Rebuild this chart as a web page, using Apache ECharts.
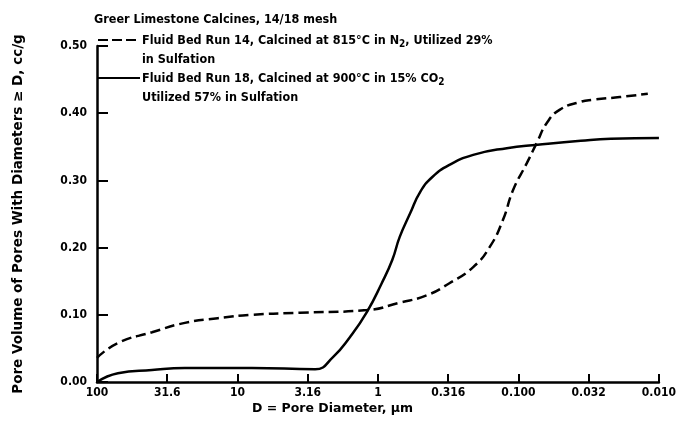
<!DOCTYPE html>
<html lang="en">
<head>
    <meta charset="UTF-8">
    <title>Pore volume chart</title>
    <style>
        body,html{
            width: 679px;
            height: 429px;
            margin: 0;
            background: #fff;
        }
        #chart{
            width: 679px;
            height: 429px;
        }
    </style>
</head>
<body>

    <div id="chart"></div>

<script src="https://cdn.jsdelivr.net/npm/echarts@6/dist/echarts.min.js"></script>
<script type="text/javascript">

    // x tick labels, left to right (axis runs from 100 down to 0.010)
    let xTickLabels = ["100", "31.6", "10", "3.16", "1", "0.316", "0.100", "0.032", "0.010"];

    // Run 14 (dashed): pore diameter um / pore volume cc/g
    let run14D = [100, 71, 40.6, 23.7, 13.8, 7.9, 3.6, 1.2, 0.70, 0.45, 0.31, 0.21, 0.16, 0.129,
                  0.109, 0.087, 0.074, 0.063, 0.051, 0.036, 0.0295, 0.019, 0.012];
    let run14V = [0.036, 0.058, 0.074, 0.088, 0.095, 0.100, 0.103, 0.107, 0.118, 0.129, 0.147, 0.171, 0.201, 0.241,
                  0.286, 0.326, 0.356, 0.385, 0.405, 0.417, 0.420, 0.424, 0.429];

    // Run 18 (solid)
    let run18D = [100, 71, 40.6, 23.7, 7.9, 2.8, 2.09, 1.58, 1.2, 0.94, 0.79, 0.70, 0.59, 0.50,
                  0.41, 0.31, 0.21, 0.121, 0.073, 0.036, 0.022, 0.010];
    let run18V = [0.0, 0.013, 0.018, 0.021, 0.021, 0.019, 0.037, 0.067, 0.104, 0.147, 0.182, 0.216, 0.251, 0.283,
                  0.305, 0.323, 0.338, 0.348, 0.353, 0.359, 0.362, 0.363];

    let font = "'DejaVu Sans Condensed', 'DejaVu Sans', sans-serif";
    let wideFont = "'DejaVu Sans', sans-serif";

    function toPoints(ds, vs) {
        let pts = [];
        for (let i = 0; i < ds.length; i++) {
            pts.push([Math.log10(ds[i]), vs[i]]);
        }
        return pts;
    }

    let chartbox = document.getElementById("chart"),
        myChart = echarts.init(chartbox);

    let txt = {fontFamily: font, fontWeight: 'bold', fontSize: 12.5, fill: '#000'};
    let subRich = {sub: {fontFamily: font, fontWeight: 'bold', fontSize: 10, padding: [8, 0, 0, 0]}};

    let option = {
        animation: false,
        backgroundColor: '#fff',
        grid: {left: 97, right: 20, top: 46, bottom: 47},
        title: {
            text: "Greer Limestone Calcines, 14/18 mesh",
            left: 89, top: 8,
            textStyle: {fontFamily: font, fontWeight: 'bold', fontSize: 12.5, color: '#000'}
        },
        xAxis: {
            type: 'value',
            min: -2, max: 2, interval: 0.5,
            inverse: true,
            splitLine: {show: false},
            axisLine: {onZero: false, lineStyle: {color: '#000', width: 2.5}},
            axisTick: {show: true, inside: true, length: 8, lineStyle: {color: '#000', width: 2}},
            axisLabel: {
                color: '#000', fontFamily: font, fontWeight: 'bold', fontSize: 12, margin: 5,
                formatter: function (v) {
                    return xTickLabels[Math.round((2 - v) * 2)];
                }
            }
        },
        yAxis: {
            type: 'value',
            min: 0, max: 0.5, interval: 0.1,
            name: "Pore Volume of Pores With Diameters \u2265 D, cc/g",
            nameLocation: 'middle',
            nameGap: 72,
            nameTextStyle: {color: '#000', fontFamily: wideFont, fontWeight: 'bold', fontSize: 13.5},
            splitLine: {show: false},
            axisLine: {show: true, onZero: false, lineStyle: {color: '#000', width: 2.5}},
            axisTick: {show: true, inside: true, length: 11, lineStyle: {color: '#000', width: 2}},
            axisLabel: {
                color: '#000', fontFamily: font, fontWeight: 'bold', fontSize: 12, margin: 10,
                formatter: function (v) { return v.toFixed(2); }
            }
        },
        series: [
            {
                name: 'Run 14',
                type: 'line',
                data: toPoints(run14D, run14V),
                smooth: 0.5,
                showSymbol: false,
                lineStyle: {color: '#000', width: 2.5, type: [10, 5]}
            },
            {
                name: 'Run 18',
                type: 'line',
                data: toPoints(run18D, run18V),
                smooth: 0.5,
                showSymbol: false,
                lineStyle: {color: '#000', width: 2.5}
            }
        ],
        graphic: [
            // legend samples
            {type: 'line', shape: {x1: 98, y1: 40, x2: 140, y2: 40},
             style: {stroke: '#000', lineWidth: 2, lineDash: [10, 4]}},
            {type: 'line', shape: {x1: 98, y1: 78, x2: 140, y2: 78},
             style: {stroke: '#000', lineWidth: 2}},
            {type: 'text', left: 142, top: 31,
             style: Object.assign({}, txt, {
                 text: "Fluid Bed Run 14, Calcined at 815\u00b0C in N{sub|2}, Utilized 29%\nin Sulfation",
                 lineHeight: 19, rich: subRich})},
            {type: 'text', left: 142, top: 69,
             style: Object.assign({}, txt, {
                 text: "Fluid Bed Run 18, Calcined at 900\u00b0C in 15% CO{sub|2}\nUtilized 57% in Sulfation",
                 lineHeight: 19, rich: subRich})},
            // x axis name
            {type: 'text', left: 252, top: 402,
             style: Object.assign({}, txt, {text: "D = Pore Diameter, \u03bcm", fontFamily: wideFont, fontSize: 12.5})}
        ]
    };
    myChart.setOption(option);

</script>
</body>
</html>
